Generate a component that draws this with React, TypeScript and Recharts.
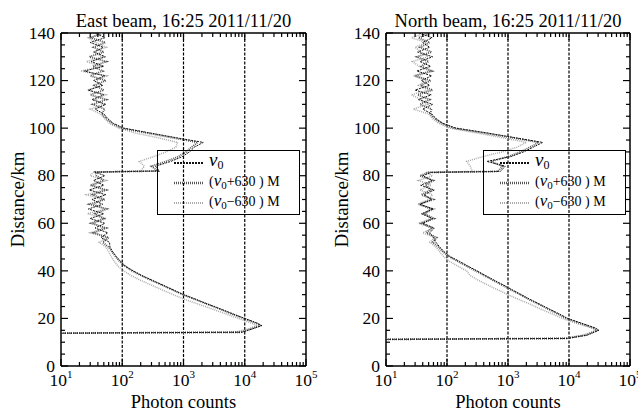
import React from 'react';
import { ScatterChart, Scatter, XAxis, YAxis, ReferenceLine } from 'recharts';

const FONT = '"Liberation Serif", "DejaVu Serif", serif';

// tick values
const X_TICKS = [10, 20, 30, 40, 50, 60, 70, 80, 90, 100, 200, 300, 400, 500, 600, 700, 800, 900, 1000, 2000, 3000, 4000, 5000, 6000, 7000, 8000, 9000, 10000, 20000, 30000, 40000, 50000, 60000, 70000, 80000, 90000, 100000];
const X_MAJOR = [10, 100, 1000, 10000, 100000];
const X_EXP = ['1', '2', '3', '4', '5'];
const Y_TICKS = [0, 5, 10, 15, 20, 25, 30, 35, 40, 45, 50, 55, 60, 65, 70, 75, 80, 85, 90, 95, 100, 105, 110, 115, 120, 125, 130, 135, 140];
const Y_LABELS = [0, 20, 40, 60, 80, 100, 120, 140];
const GRID_X = [100, 1000, 10000];

// East beam
const EAST_D = [13.8, 14.2, 15.5, 17, 18, 20, 22, 24, 26, 28, 30, 32, 34, 36, 38, 40, 42, 44, 46, 48, 50, 52, 54, 56, 58, 60, 62, 64, 66, 68, 70, 72, 74, 76, 78, 80, 81.5, 82, 84, 86, 88, 90, 92, 94, 96, 98, 100, 102, 104, 106, 108, 110, 112, 114, 116, 118, 120, 122, 124, 126, 128, 130, 132, 134, 136, 138, 140];
const EAST_V0 = [10, 9000, 13000, 19000, 16000,
  10000, 6300, 4000, 2500, 1600, 1000, 680, 460, 310, 210, 150, 112, 94, 80, 70, 63, 62, 45, 58, 36, 52, 30, 50, 28, 48, 32, 54, 29, 50, 34, 52,
  36, 400,
  350, 620, 950, 1250, 1500, 2100, 750, 280, 105, 72, 58, 50, 36, 54, 32, 50, 28, 48, 34, 52, 24, 50, 31, 53, 35, 49, 30, 52, 36];
const EAST_PLUS = [10, 8500, 12500, 18000, 15500,
  9600, 6000, 3900, 2450, 1550, 980, 660, 450, 300, 205, 145, 110, 90, 78, 68, 60, 48, 60, 34, 55, 31, 50, 36, 56, 29, 52, 33, 55, 30, 50, 38,
  36, 380,
  300, 520, 820, 1100, 1350, 1700, 650, 250, 98, 68, 55, 46, 52, 33, 55, 30, 50, 35, 54, 30, 48, 33, 55, 29, 50, 34, 53, 31, 47];
const EAST_MINUS = [10, 7000, 11000, 16000, 13000,
  7800, 4800, 2900, 1750, 1050, 680, 450, 300, 200, 140, 105, 85, 74, 66, 60, 54, 42, 56, 30, 50, 34, 55, 27, 52, 35, 47, 26, 50, 33, 55, 30,
  34, 200,
  230, 190, 320, 520, 750, 800, 380, 160, 88, 62, 52, 44, 30, 50, 36, 54, 27, 46, 38, 56, 21, 45, 26, 48, 33, 55, 37, 28, 50];

// North beam
const NORTH_D = [11.2, 11.6, 13, 15, 16, 18, 20, 22, 24, 26, 28, 30, 32, 34, 36, 38, 40, 42, 44, 46, 48, 50, 52, 54, 56, 58, 60, 62, 64, 66, 68, 70, 72, 74, 76, 78, 80, 81.4, 81.8, 84, 86, 88, 90, 92, 94, 96, 98, 100, 102, 104, 106, 108, 110, 112, 114, 116, 118, 120, 122, 124, 126, 128, 130, 132, 134, 136, 138, 140];
const NORTH_V0 = [10, 9500, 20000, 31000, 27000, 16000,
  9500, 6800, 4700, 3300, 2300, 1650, 1180, 850, 600, 430, 310, 220, 160, 112, 90, 76, 66, 60, 52, 62, 40, 58, 38, 60, 36, 56, 42, 62, 37, 57, 40,
  55, 750,
  900, 450, 1100, 1800, 2600, 3700, 1300, 450, 140, 86, 66, 56, 40, 58, 34, 55, 30, 52, 38, 56, 32, 54, 36, 58, 33, 52, 40, 57, 35];
const NORTH_PLUS = [10, 9000, 19000, 29000, 25000, 15000,
  9000, 6400, 4500, 3150, 2200, 1580, 1120, 800, 570, 410, 295, 210, 150, 108, 86, 73, 58, 68, 46, 57, 38, 62, 42, 55, 35, 60, 38, 54, 44, 60, 36,
  50, 680,
  820, 520, 1000, 1600, 2300, 3200, 1150, 400, 130, 82, 63, 53, 56, 36, 52, 33, 58, 37, 54, 30, 57, 38, 50, 32, 56, 36, 52, 34, 55];
const NORTH_MINUS = [10, 8000, 17000, 28000, 24000, 13000,
  7800, 5200, 3400, 2300, 1500, 1000, 680, 470, 330, 240, 210, 150, 110, 88, 76, 66, 52, 62, 40, 58, 34, 54, 44, 62, 33, 50, 58, 36, 55, 34, 58,
  44, 260,
  240, 210, 380, 800, 1400, 2000, 800, 300, 110, 74, 58, 50, 28, 48, 38, 26, 50, 34, 46, 28, 52, 35, 27, 49, 38, 30, 46, 26, 44];

const SERIES_STYLE = [
  { stroke: '#111', strokeWidth: 1, strokeDasharray: '2 1' },
  { stroke: '#555', strokeWidth: 1.8, strokeDasharray: '1 1' },
  { stroke: '#aaa', strokeWidth: 1.5, strokeDasharray: '1 1' },
];

const noShape = () => <g />;

const BottomTick = (p: any) => {
  const v = p.payload.value;
  const mi = X_MAJOR.indexOf(v);
  return (
    <g>
      <line x1={p.x} x2={p.x} y1={p.y} y2={p.y - (mi >= 0 ? 7 : 4)} stroke="#000" strokeWidth={1.2} />
      {mi >= 0 && (
        <text x={p.x} y={p.y + 20} textAnchor="middle" fontFamily={FONT} fontSize={17.5} fill="#000">
          10<tspan dy={-8} fontSize={11}>{X_EXP[mi]}</tspan>
        </text>
      )}
    </g>
  );
};

const TopTick = (p: any) => {
  const major = X_MAJOR.includes(p.payload.value);
  return <line x1={p.x} x2={p.x} y1={p.y} y2={p.y + (major ? 7 : 4)} stroke="#000" strokeWidth={1.2} />;
};

const LeftTick = (p: any) => {
  const v = p.payload.value;
  const major = Y_LABELS.includes(v);
  return (
    <g>
      <line x1={p.x} x2={p.x + (major ? 7 : 4)} y1={p.y} y2={p.y} stroke="#000" strokeWidth={1.2} />
      {major && (
        <text x={p.x - 6} y={p.y} dy="0.33em" textAnchor="end" fontFamily={FONT} fontSize={17.5} fill="#000">{v}</text>
      )}
    </g>
  );
};

const RightTick = (p: any) => {
  const major = Y_LABELS.includes(p.payload.value);
  return <line x1={p.x} x2={p.x - (major ? 7 : 4)} y1={p.y} y2={p.y} stroke="#000" strokeWidth={1.2} />;
};

const Nu = ({ size }: { size: number }) => (
  <span>
    <span style={{ fontStyle: 'italic', fontSize: size }}>ν</span>
    <span style={{ fontSize: Math.round(size * 0.62), verticalAlign: -3 }}>0</span>
  </span>
);

function LegendBox({ left, top }: { left: number; top: number }) {
  const rows = [
    <span><Nu size={19} /></span>,
    <span style={{ fontSize: 14 }}>(<Nu size={17} />+630 ) M</span>,
    <span style={{ fontSize: 14 }}>(<Nu size={17} />−630 ) M</span>,
  ];
  return (
    <div style={{ position: 'absolute', left, top, width: 141, height: 63, border: '1.5px solid #000', fontFamily: FONT }}>
      {rows.map((r, i) => (
        <div key={i} style={{ position: 'absolute', left: 16, top: 3 + i * 20, height: 17, display: 'flex', alignItems: 'center' }}>
          <svg width={30} height={8} style={{ marginRight: 5 }}>
            <line x1={0} x2={30} y1={4} y2={4} {...SERIES_STYLE[i]} strokeWidth={i === 1 ? 2.5 : 2} />
          </svg>
          <span style={{ lineHeight: '16px', whiteSpace: 'nowrap' }}>{r}</span>
        </div>
      ))}
    </div>
  );
}

function Panel({ x, mLeft, mRight, title, dist, v0, plus, minus, legendLeft, yLabelX }: any) {
  const W = 320;
  const plotW = W - mLeft - mRight;
  const series = [v0, plus, minus].map((vals: number[]) => dist.map((d: number, i: number) => ({ x: vals[i], y: d })));
  return (
    <div style={{ position: 'absolute', left: x, top: 0, width: W, height: 411 }}>
      <ScatterChart width={W} height={411} margin={{ top: 32, right: mRight - 1, bottom: 44, left: mLeft - 1 }}>
        <XAxis xAxisId="b" dataKey="x" type="number" scale="log" domain={[10, 100000]} allowDataOverflow
          ticks={X_TICKS} interval={0} height={1} tickSize={0} tickMargin={0} tickLine={false}
          axisLine={{ stroke: '#000', strokeWidth: 1.5 }} tick={BottomTick} />
        <XAxis xAxisId="t" orientation="top" dataKey="x" type="number" scale="log" domain={[10, 100000]} allowDataOverflow
          ticks={X_TICKS} interval={0} height={1} tickSize={0} tickMargin={0} tickLine={false}
          axisLine={{ stroke: '#000', strokeWidth: 1.5 }} tick={TopTick} />
        <YAxis yAxisId="l" dataKey="y" type="number" domain={[0, 140]} allowDataOverflow
          ticks={Y_TICKS} interval={0} width={1} tickSize={0} tickMargin={0} tickLine={false}
          axisLine={{ stroke: '#000', strokeWidth: 1.5 }} tick={LeftTick} />
        <YAxis yAxisId="r" orientation="right" dataKey="y" type="number" domain={[0, 140]} allowDataOverflow
          ticks={Y_TICKS} interval={0} width={1} tickSize={0} tickMargin={0} tickLine={false}
          axisLine={{ stroke: '#000', strokeWidth: 1.5 }} tick={RightTick} />
        {GRID_X.map((g) => (
          <ReferenceLine key={g} xAxisId="b" yAxisId="l" x={g} stroke="#000" strokeWidth={1.2} strokeDasharray="3 1.5" />
        ))}
        {series.slice().reverse().map((data, j) => {
          const i = 2 - j;
          return (
            <Scatter key={i} xAxisId="b" yAxisId="l" data={data} line={SERIES_STYLE[i]} shape={noShape}
              isAnimationActive={false} legendType="none" />
          );
        })}
        <Scatter xAxisId="t" yAxisId="r" data={[]} shape={noShape} isAnimationActive={false} legendType="none" />
      </ScatterChart>
      <div style={{ position: 'absolute', left: mLeft - 20, width: plotW + 40, top: 12, textAlign: 'center', fontFamily: FONT, fontSize: 18.5, lineHeight: '18px', whiteSpace: 'nowrap' }}>{title}</div>
      <div style={{ position: 'absolute', left: mLeft, width: plotW, top: 393, textAlign: 'center', fontFamily: FONT, fontSize: 18.5, lineHeight: '18px' }}>Photon counts</div>
      <div style={{ position: 'absolute', left: yLabelX - 100, top: 190, width: 200, height: 19, textAlign: 'center', fontFamily: FONT, fontSize: 19, lineHeight: '19px', transform: 'rotate(-90deg)' }}>Distance/km</div>
      <LegendBox left={legendLeft} top={150} />
    </div>
  );
}

export default function App() {
  return (
    <div style={{ position: 'absolute', left: 0, top: 0, width: 638, height: 411, overflow: 'hidden', background: '#fff' }}>
      <Panel x={0} mLeft={61} mRight={14} title="East beam, 16:25 2011/11/20"
        dist={EAST_D} v0={EAST_V0} plus={EAST_PLUS} minus={EAST_MINUS} legendLeft={157} yLabelX={17} />
      <Panel x={318} mLeft={68} mRight={8} title="North beam, 16:25 2011/11/20"
        dist={NORTH_D} v0={NORTH_V0} plus={NORTH_PLUS} minus={NORTH_MINUS} legendLeft={165} yLabelX={23} />
    </div>
  );
}
